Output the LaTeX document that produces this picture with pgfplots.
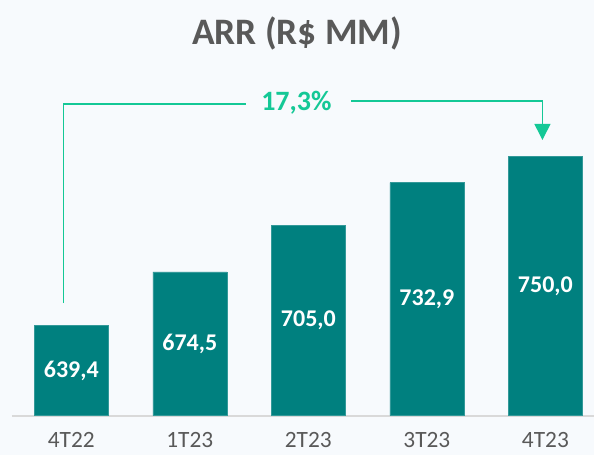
\documentclass[border=0pt]{standalone}
\usepackage{pgfplots}
\pgfplotsset{compat=1.18}
\usepackage{fontspec}
\setmainfont{Carlito}
\usetikzlibrary{arrows.meta}
\definecolor{bgc}{RGB}{247,250,253}
\definecolor{barc}{RGB}{0,128,127}
\definecolor{arrc}{RGB}{20,200,150}
\definecolor{txtc}{RGB}{89,89,89}
\definecolor{axc}{RGB}{217,217,217}
\begin{document}
\begin{tikzpicture}
\fill[bgc] (0,0) rectangle (445.5pt,341.25pt);
\useasboundingbox (0,0) rectangle (445.5pt,341.25pt);
\node[anchor=base, text=txtc, font=\fontsize{28}{30}\selectfont\bfseries] at (222.75pt,308.25pt) {ARR (R\$ MM)};
\begin{axis}[
  at={(9pt,29.625pt)}, anchor=south west,
  scale only axis, width=436.5pt, height=251.625pt,
  xmin=-0.5, xmax=4.41, ymin=580.5, ymax=800,
  axis x line=bottom, axis y line=none,
  x axis line style={draw=axc, line width=1.5pt, -},
  xtick={0,1,2,3,4}, xticklabels={4T22,1T23,2T23,3T23,4T23},
  xtick style={draw=none},
  xticklabel style={font=\fontsize{17.5}{19}\selectfont, text=txtc, anchor=north, yshift=-7pt},
  clip=false,
]
\addplot[ybar, bar width=55.5pt, bar shift=0pt, fill=barc, draw=barc!80!white, line width=0.4pt] coordinates {(0,639.4) (1,674.5) (2,705.0) (3,732.9) (4,750.0)};
\addplot[draw=none, mark=none, nodes near coords, point meta=explicit symbolic,
  every node near coord/.style={anchor=center, text=white, font=\fontsize{18}{20}\selectfont\bfseries}]
  table[meta=lab, y expr=(\thisrow{y}+580.5)/2] {
x y lab
0 639.4 639,4
1 674.5 674,5
2 705.0 705,0
3 732.9 732,9
4 750.0 750,0
};
\draw[arrc, line width=1pt] (axis cs:-0.067,654.1) -- (axis cs:-0.067,784.4) -- (axis cs:1.477,784.4);
\draw[arrc, line width=1pt, -{Triangle[width=12pt,length=12pt]}] (axis cs:2.363,786.3) -- (axis cs:3.975,786.3) -- (axis cs:3.975,760.8);
\node[text=arrc, font=\fontsize{21}{23}\selectfont\bfseries] at (axis cs:1.899,785.3) {17,3\%};
\end{axis}
\end{tikzpicture}
\end{document}
